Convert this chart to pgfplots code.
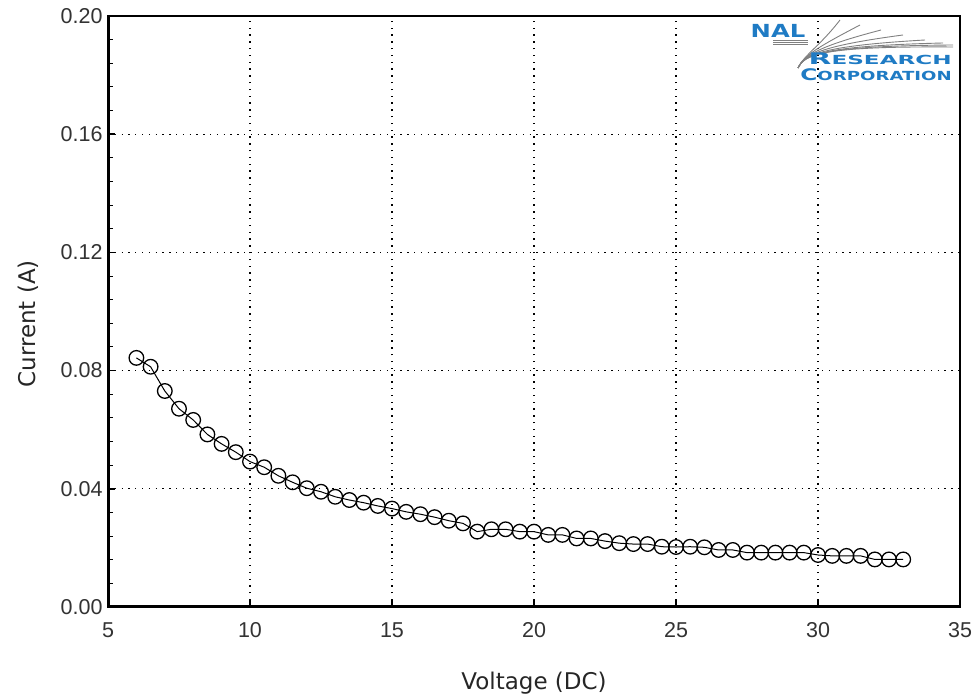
\documentclass[border=0pt]{standalone}
\usepackage{fontspec}
\setmainfont{DejaVu Sans}
\newfontfamily\tickfont{Liberation Sans}
\usepackage{graphicx}
\usepackage{pgfplots}
\pgfplotsset{compat=1.18}
\definecolor{nalblue}{HTML}{1F7BC4}
\definecolor{ticktext}{HTML}{333333}
\begin{document}
\begin{tikzpicture}[x=1pt,y=1pt]
\begin{axis}[
  name=ax, at={(0,0)}, anchor=south west,
  scale only axis, width=852pt, height=591pt,
  xmin=5, xmax=35, ymin=0, ymax=0.2,
  xtick={5,10,15,20,25,30,35},
  ytick={0,0.04,0.08,0.12,0.16,0.2},
  minor y tick num=4,
  tick pos=left, tick align=inside,
  major tick length=7pt, minor tick length=5pt,
  major tick style={line width=1.6pt, black},
  minor tick style={line width=1pt, black},
  grid=major,
  major grid style={black, line width=1.3pt, dash pattern=on 1.3pt off 5.5pt},
  axis line style={line width=1.5pt, black},
  scaled y ticks=false,
  /pgf/number format/assume math mode=true,
  y tick label style={/pgf/number format/fixed, /pgf/number format/fixed zerofill, /pgf/number format/precision=2},
  tick label style={font=\tickfont\fontsize{21.5}{24}\selectfont, text=ticktext},
  yticklabel style={xshift=-2pt},
  xticklabel style={yshift=-12pt},
  xlabel={Voltage (DC)}, ylabel={Current (A)},
  label style={font=\fontsize{23}{27}\selectfont, text=black!85},
  xlabel style={at={(rel axis cs:0.5,0)}, anchor=center, yshift=-76pt},
  ylabel style={at={(axis description cs:-0.094,0.479)}, anchor=center, rotate=0},
]
\addplot[black, line width=1pt, mark=o, mark size=7.3pt,
  mark options={line width=1.3pt, fill=white, solid}] coordinates {
(6,0.0843) (6.5,0.0813) (7,0.0731) (7.5,0.0671) (8,0.0633) (8.5,0.0584)
(9,0.0552) (9.5,0.0524) (10,0.0492) (10.5,0.0473) (11,0.0444) (11.5,0.0422)
(12,0.0402) (12.5,0.0390) (13,0.0373) (13.5,0.0362) (14,0.0353) (14.5,0.0342)
(15,0.0333) (15.5,0.0322) (16,0.0314) (16.5,0.0304) (17,0.0292) (17.5,0.0283)
(18,0.0255) (18.5,0.0263) (19,0.0263) (19.5,0.0255) (20,0.0255) (20.5,0.0244)
(21,0.0244) (21.5,0.0232) (22,0.0232) (22.5,0.0223) (23,0.0216) (23.5,0.0213)
(24,0.0213) (24.5,0.0204) (25,0.0203) (25.5,0.0204) (26,0.0202) (26.5,0.0193)
(27,0.0193) (27.5,0.0184) (28,0.0184) (28.5,0.0184) (29,0.0184) (29.5,0.0184)
(30,0.0176) (30.5,0.0173) (31,0.0173) (31.5,0.0173) (32,0.0161) (32.5,0.0161)
(33,0.0161)
};
\draw[black, line width=3.5pt, line cap=rect] (rel axis cs:0,1) -- (rel axis cs:0,0) -- (rel axis cs:1,0);
\end{axis}
% logo (decoration)
\begin{scope}[black!50, line width=0.9pt]
\foreach \ex/\ey in {732/587, 752/582, 773/577, 795/572, 817/567, 835/564, 845/562, 845/560}{
  \draw (690,539) .. controls (696,552) and (712,561) .. (\ex,\ey);
}
\foreach \dy in {0,2,4}{
  \draw (665,563+\dy) -- (700,563+\dy);
}
\end{scope}
\node[anchor=center, text=nalblue, inner sep=0pt] at (670,576)
  {\scalebox{1.35}[1]{\fontsize{18}{18}\selectfont\bfseries NAL}};
\node[anchor=east, text=nalblue, inner sep=0pt] at (844,548)
  {\scalebox{1.85}[1]{\bfseries{\fontsize{16}{16}\selectfont R}{\fontsize{12.5}{16}\selectfont ESEARCH}}};
\node[anchor=east, text=nalblue, inner sep=0pt] at (844,532)
  {\scalebox{1.45}[1]{\bfseries{\fontsize{16}{16}\selectfont C}{\fontsize{12.5}{16}\selectfont ORPORATION}}};
\pgfresetboundingbox
\path (-108,-91) rectangle (866,607);
\end{tikzpicture}
\end{document}
